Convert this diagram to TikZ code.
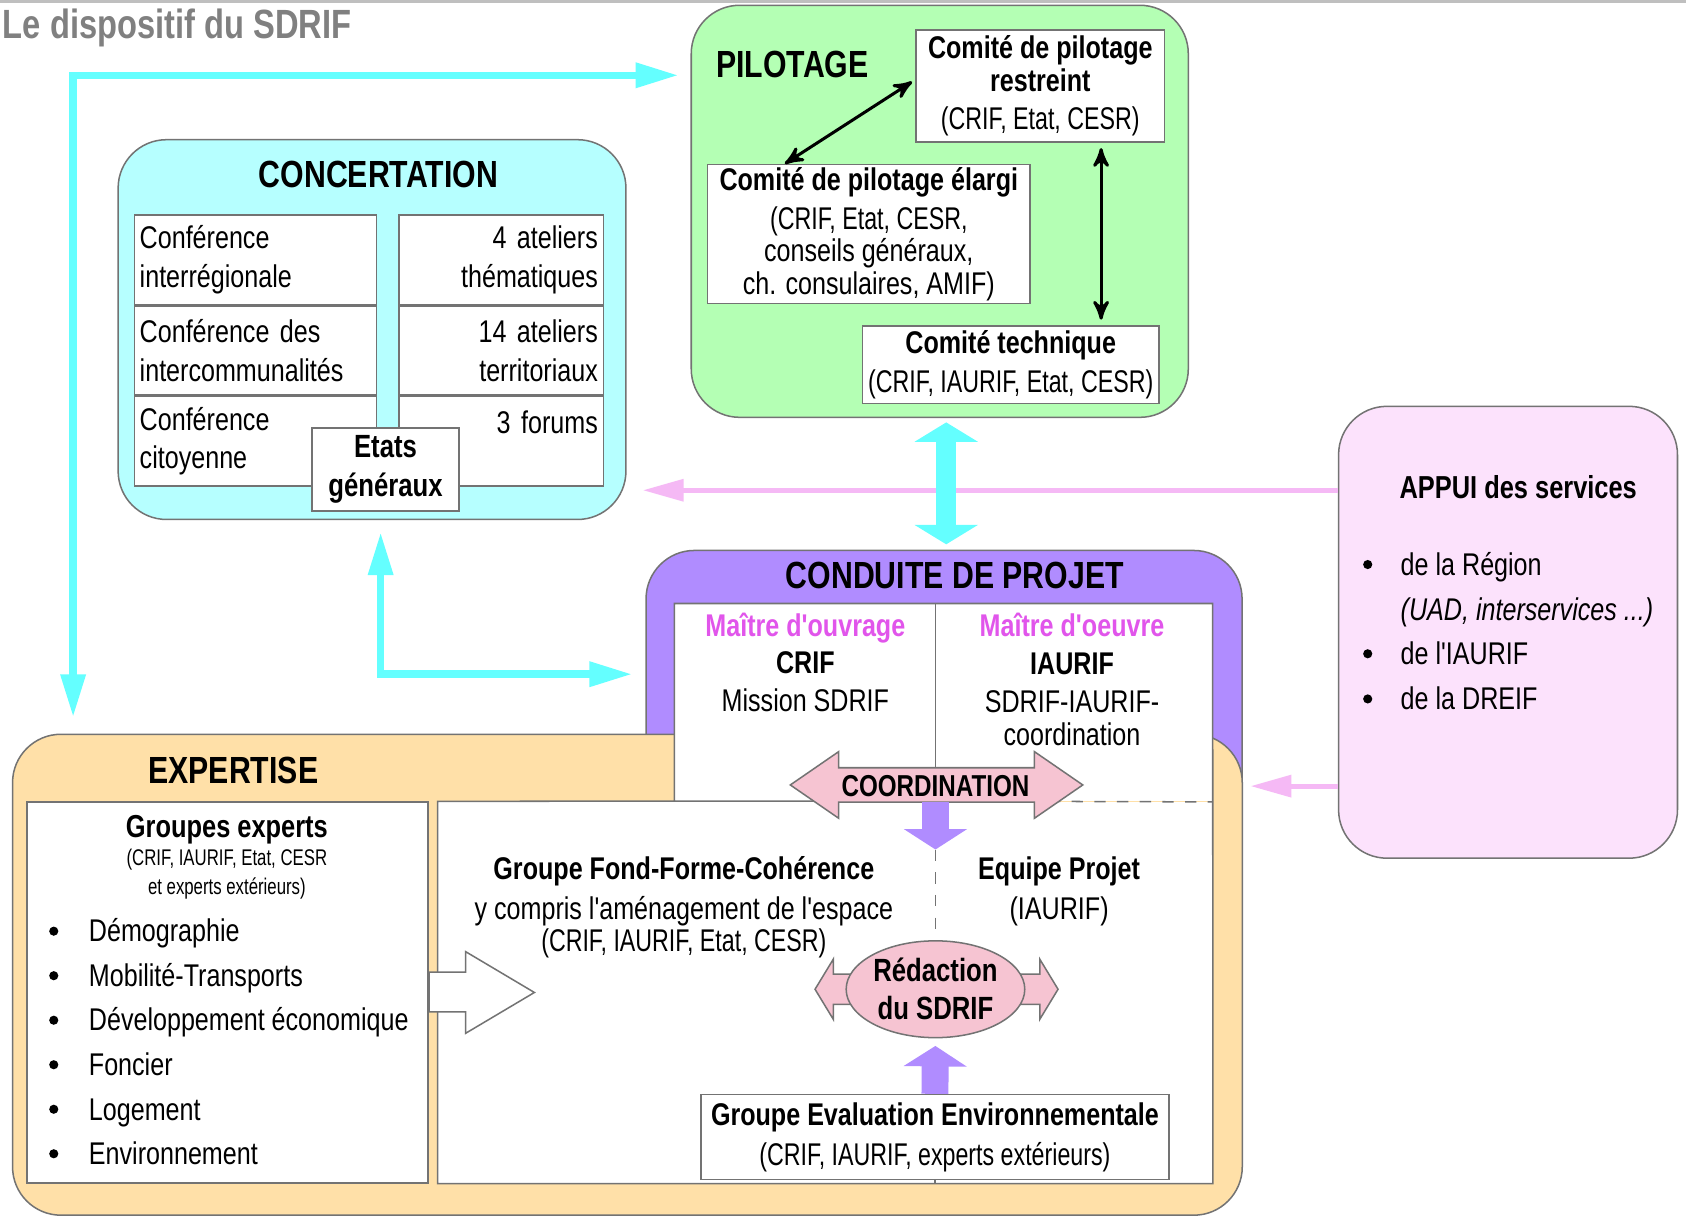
\documentclass[tikz,border=0pt]{standalone}
\usepackage{fontspec}
\newfontfamily\diagfont{Liberation Sans}[FakeStretch=0.8]
\newfontfamily\narrowfont{Liberation Sans}[FakeStretch=0.74]
\usetikzlibrary{arrows,arrows.meta,shapes,positioning}

\definecolor{cyanarrow}{RGB}{100,255,255}
\definecolor{concfill}{RGB}{182,255,255}
\definecolor{pilofill}{RGB}{180,255,180}
\definecolor{appuifill}{RGB}{252,226,252}
\definecolor{conduitefill}{RGB}{176,140,255}
\definecolor{expfill}{RGB}{255,224,168}
\definecolor{coordfill}{RGB}{246,196,210}
\definecolor{magtext}{RGB}{225,85,235}
\definecolor{pinkline}{RGB}{245,185,245}
\definecolor{bordergray}{RGB}{115,115,115}

\newcommand{\dfont}[2]{\diagfont\fontsize{#1}{#2}\selectfont}

\begin{document}
\begin{tikzpicture}[x=0.01cm,y=-0.01cm,>=stealth',
    every node/.style={inner sep=0pt,font=\dfont{8.3}{8.6}}]
  \tikzstyle{roundbox}=[draw=bordergray,line width=0.4pt,rounded corners=0.45cm]
  \tikzstyle{panel}=[draw=bordergray,line width=0.4pt,fill=white]
  \tikzstyle{boxtitle}=[font=\dfont{10}{12}\bfseries]
  \tikzstyle{bold label}=[font=\dfont{8.4}{8.6}\bfseries]
  \tikzstyle{lcell}=[panel,minimum width=2.25cm,minimum height=0.83cm,
                     text width=2.15cm,align=left,font=\dfont{8.3}{10.2}]
  \tikzstyle{rcell}=[lcell,minimum width=1.9cm,text width=1.8cm,align=right]
  \tikzstyle{bulletdot}=[circle,fill=black,minimum size=0.085cm]
  \tikzstyle{cyan link}=[draw=cyanarrow,line width=0.07cm,
                         {Triangle[length=0.4cm,width=0.22cm]}-{Triangle[length=0.4cm,width=0.22cm]}]
  \tikzstyle{block link}=[line width=0.19cm,
                         {Triangle[length=0.18cm,width=0.58cm]}-{Triangle[length=0.18cm,width=0.58cm]}]
  \tikzstyle{purple link}=[draw=conduitefill,line width=0.25cm,-{Triangle[length=0.19cm,width=0.58cm]}]
  \tikzstyle{pink link}=[draw=pinkline,line width=0.045cm,-{Triangle[length=0.38cm,width=0.2cm]}]
  \tikzstyle{pink block}=[draw=bordergray,line width=0.4pt,fill=coordfill]

  \useasboundingbox (0,0) rectangle (1568,1132);
  \fill[white] (0,0) rectangle (1568,1132);
  \draw[black!25,line width=0.04cm] (0,1) -- (1568,1);
  \node[anchor=base west,font=\dfont{10.8}{12}\bfseries,text=black!50] (titre) at (2,36) {Le dispositif du SDRIF};

  % concertation
  \node[roundbox,fill=concfill,minimum width=4.72cm,minimum height=3.53cm] (conc) at (346,306.5) {};
  \node[boxtitle] (conctitle) at (352,162) {CONCERTATION};
  \node[lcell] (cf1) at (237.5,241.5) {Conférence\\interrégionale};
  \node[lcell,below=0pt of cf1] (cf2) {Conférence des\\intercommunalités};
  \node[lcell,below=0pt of cf2] (cf3) {Conférence\\citoyenne};
  \node[rcell] (at1) at (466,241.5) {4 ateliers\\thématiques};
  \node[rcell,below=0pt of at1] (at2) {14 ateliers\\territoriaux};
  \node[rcell,below=0pt of at2] (at3) {3 forums\\\mbox{}};
  \node[panel,minimum width=1.37cm,minimum height=0.77cm,align=center,
        font=\dfont{8.5}{10.5}\bfseries] (etats) at (358.5,436.5) {Etats\\généraux};

  % pilotage
  \node[roundbox,fill=pilofill,minimum width=4.62cm,minimum height=3.83cm] (pilo) at (874,196.5) {};
  \node[boxtitle] (pilotitle) at (737,60) {PILOTAGE};
  \node[panel,minimum width=2.31cm,minimum height=1.04cm,align=center] (restr) at (967.5,80)
    {\textbf{Comité de pilotage}\\\textbf{restreint}\\[1.5pt]{\narrowfont (CRIF, Etat, CESR)}};
  \node[panel,minimum width=3cm,minimum height=1.29cm,align=center] (elargi) at (808,217.5)
    {\textbf{Comité de pilotage élargi}\\[1.7pt]{\narrowfont (CRIF, Etat, CESR,}\\conseils généraux,\\ch. consulaires, AMIF)};
  \node[panel,minimum width=2.76cm,minimum height=0.72cm,align=center] (tech) at (940,339)
    {\textbf{Comité technique}\\[1.7pt]{\narrowfont (CRIF, IAURIF, Etat, CESR)}};
  \coordinate (vtop) at ([xshift=0.565cm]restr.south);
  \draw[line width=0.8pt,<->,shorten <=0.05cm,shorten >=0.05cm] (vtop) -- (vtop |- tech.north);
  \draw[line width=0.8pt,<->] ([xshift=-0.78cm]elargi.north) -- ([shift={(-0.03cm,0.04cm)}]restr.west);

  % appui des services
  \node[roundbox,fill=appuifill,minimum width=3.15cm,minimum height=4.2cm] (appui) at (1402.5,588) {};
  \node[bold label] (appuititle) at (1412,453) {APPUI des services};
  \foreach \txt/\yy [count=\i] in {de la Région/525,de l'IAURIF/608,de la DREIF/650} {
    \node[bulletdot] (adot\i) at (1272,\yy) {};
    \node[anchor=base west] (aitem\i) at (1302,{\yy+10}) {\txt};
  }
  \node[anchor=base west,font=\dfont{8.3}{8.6}\itshape] (aitemx) at (1302,577) {(UAD, interservices ...)};

  % conduite de projet et expertise
  \node[roundbox,fill=conduitefill,minimum width=5.54cm,minimum height=3cm] (conduite) at (878,662) {};
  \node[roundbox,fill=expfill,minimum width=11.43cm,minimum height=4.47cm] (expert) at (583.5,906.5) {};
  \node[fill=white,minimum width=7.19cm,minimum height=3.54cm] (rpanel) at (767.5,923) {};
  \node[fill=white,minimum width=4.99cm,minimum height=1.83cm] (cinner) at (877.5,653.5) {};
  \draw[bordergray,line width=0.4pt] (cinner.south west) |- (cinner.north east) -- (rpanel.south east)
    -| (rpanel.north west) -- (870,745);
  \draw[bordergray,line width=0.4pt,dashed] (870,745) -- (cinner.south east);
  \draw[bordergray,line width=0.4pt] (870,562) -- (870,745);
  \node[panel,minimum width=3.73cm,minimum height=3.54cm] (groupes) at (211.5,923) {};
  \node[boxtitle] (condtitle) at (888,535) {CONDUITE DE PROJET};
  \node[boxtitle] (exptitle) at (217,717) {EXPERTISE};

  \node[align=center,font=\dfont{8.3}{8.8}] (mouvrage) at (749,616)
    {\textcolor{magtext}{\textbf{Maître d'ouvrage}}\\[1.2pt]\textbf{CRIF}\\[1.2pt]Mission SDRIF};
  \node[align=center,font=\dfont{8.3}{8.8}] (moeuvre) at (997,632)
    {\textcolor{magtext}{\textbf{Maître d'oeuvre}}\\[1.2pt]\textbf{IAURIF}\\[1.2pt]SDRIF-IAURIF-\\coordination};

  \draw[pink block] (735,730) -- (780,699) -- (780,714) -- (962,714) -- (962,699) -- (1007,730)
    -- (962,761) -- (962,746) -- (780,746) -- (780,761) -- cycle;
  \node[font=\dfont{8}{8.6}\bfseries] (coordtxt) at (870,731) {COORDINATION};
  \draw[purple link] ([yshift=-0.15cm]coordtxt.center) -- ([yshift=-0.59cm]coordtxt.center);

  \node[align=center] (fond) at (636,844)
    {\textbf{Groupe Fond-Forme-Cohérence}\\[1.9pt]y compris l'aménagement de l'espace\\{\narrowfont (CRIF, IAURIF, Etat, CESR)}};
  \node[align=center] (equipe) at (985,829) {\textbf{Equipe Projet}\\[1.9pt](IAURIF)};

  % redaction
  \draw[pink block] (758,920) -- (775,892) -- (775,906) -- (967,906) -- (967,892) -- (984,920)
    -- (967,948) -- (967,934) -- (775,934) -- (775,948) -- cycle;
  \node[ellipse,draw=bordergray,line width=0.4pt,fill=coordfill,minimum width=1.66cm,minimum height=0.9cm,
        align=center,font=\dfont{8.5}{10}\bfseries] (redac) at (870,920) {Rédaction\\du SDRIF};
  \draw[bordergray,line width=0.4pt,dashed] ([yshift=-0.59cm]coordtxt.center) -- (redac.north);

  \node[panel,minimum width=4.35cm,minimum height=0.79cm,align=center] (eval) at (869.5,1057.5)
    {\textbf{Groupe Evaluation Environnementale}\\[1.9pt]{\narrowfont (CRIF, IAURIF, experts extérieurs)}};
  \draw[purple link,shorten >=0.07cm] (eval.north) -- (redac.south);
  \draw[bordergray,line width=0.4pt,dashed] (eval.south) -- (eval.south |- rpanel.south);

  % groupes experts
  \node[bold label] (gexptitle) at (211,772) {Groupes experts};
  \node[align=center,font=\narrowfont\fontsize{6}{7.7}\selectfont] (gexpsub) at (211,813) {(CRIF, IAURIF, Etat, CESR\\et experts extérieurs)};
  \foreach \txt [count=\i] in {Démographie,Mobilité-Transports,Développement économique,Foncier,Logement,Environnement} {
    \node[bulletdot] (edot\i) at (50,{866+41.4*(\i-1)}) {};
    \node[anchor=base west] (eitem\i) at (82,{876+41.4*(\i-1)}) {\txt};
  }
  \draw[panel] (399,904) -- (433,904) -- (433,885) -- (497,923) -- (433,961) -- (433,941) -- (399,941) -- cycle;

  % liaisons
  \coordinate (ap1) at ([yshift=1.32cm]appui.west);
  \coordinate (ap2) at ([yshift=-1.43cm]appui.west);
  \draw[pink link,shorten >=0.15cm] (ap1) -- (ap1 -| conc.east);
  \draw[pink link,shorten >=0.07cm] (ap2) -- (ap2 -| expert.east);
  \coordinate (pc) at ([xshift=0.06cm]pilo.south);
  \draw[block link,draw=cyanarrow,shorten <=0.04cm,shorten >=0.05cm] (pc) -- (pc |- conduite.north);
  \coordinate (corner) at (68,70);
  \draw[cyan link,shorten <=0.15cm,shorten >=0.11cm] (corner |- expert.north) -- (corner) -- (corner -| pilo.west);
  \coordinate (bend) at (354,627);
  \draw[cyan link,shorten <=0.11cm,shorten >=0.12cm] (conc.south -| bend) -- (bend) -- (bend -| conduite.west);
\end{tikzpicture}
\end{document}
